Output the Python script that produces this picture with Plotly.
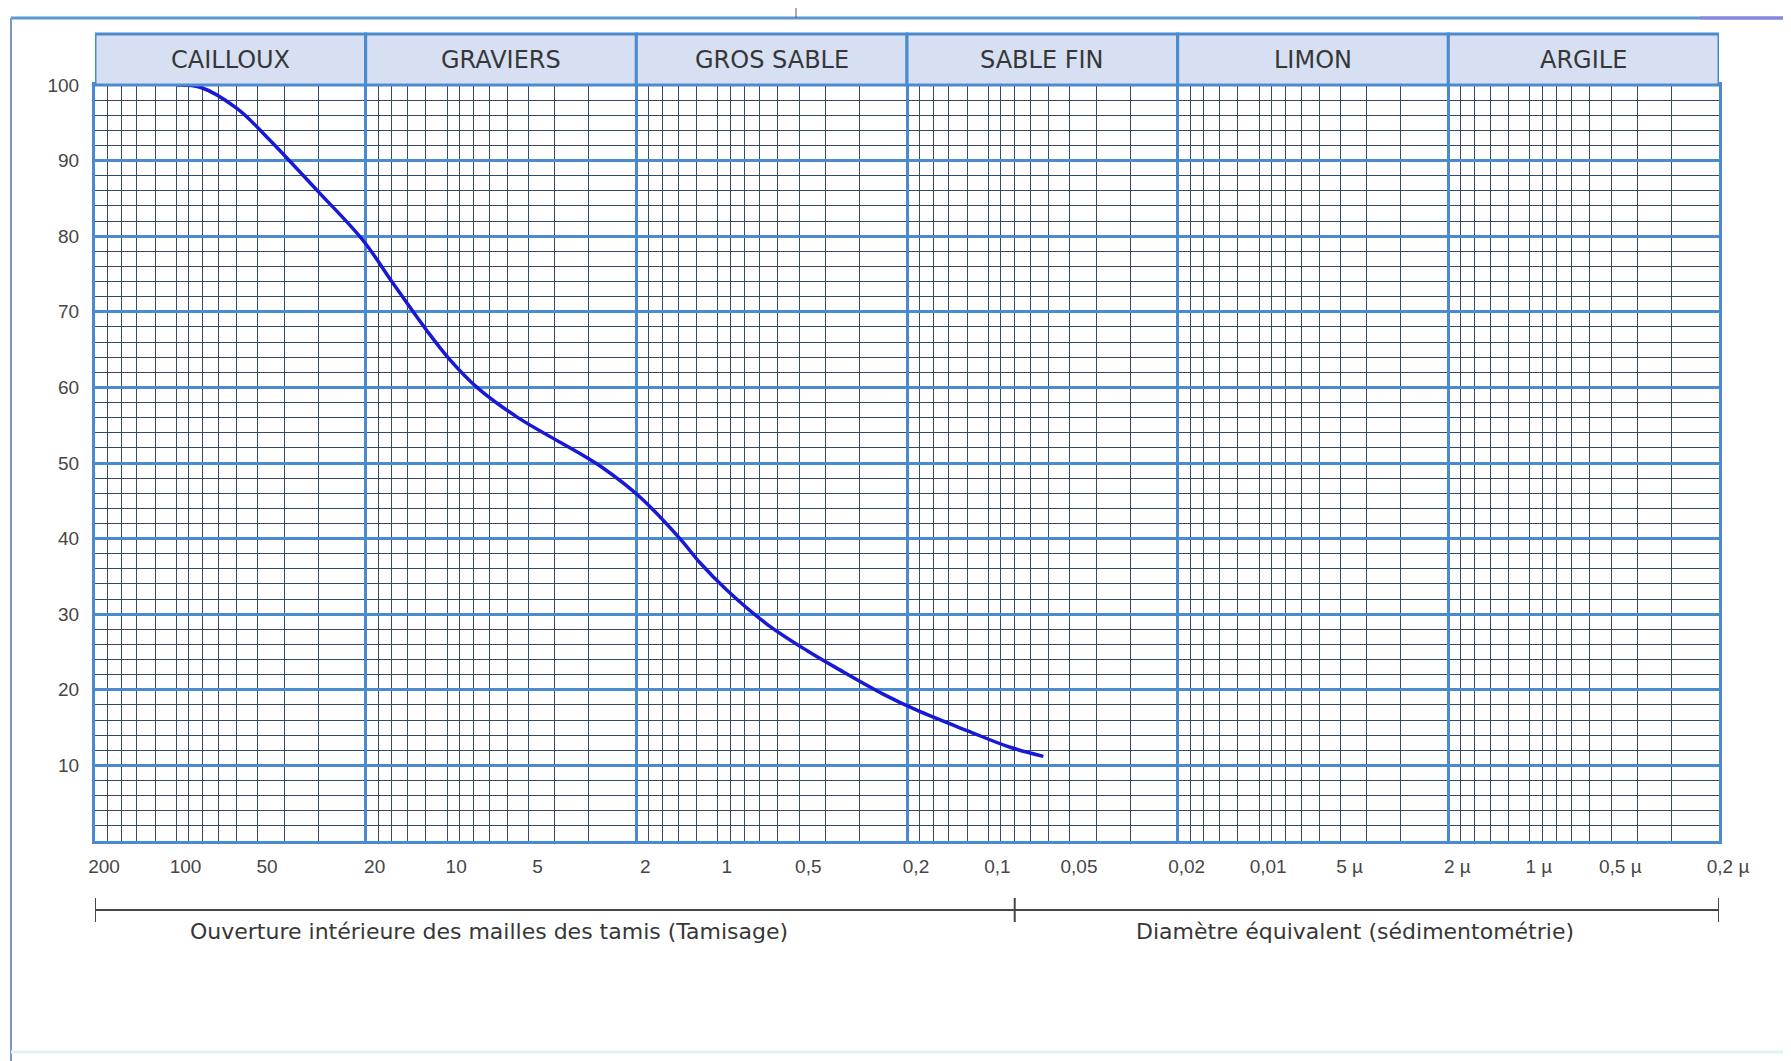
import math
import plotly.graph_objects as go

# ---------------- data ----------------
grain_size_mm = [100, 81.7, 59.8, 46.3, 30.3, 20.4, 15.8, 11.88, 9.74, 7.76, 5.53,
                 3.14, 2.72, 1.94, 1.38, 1.164, 0.927, 0.659, 0.469, 0.353, 0.244,
                 0.184, 0.120, 0.0832, 0.0627]
passing_pct = [100, 99.7, 96.9, 93.1, 86.1, 79.4, 73.7, 67.5, 63.6, 60.0, 56.1,
               51.0, 49.6, 45.5, 40.0, 36.8, 33.2, 28.7, 25.2, 22.6, 19.4,
               17.3, 14.6, 12.4, 11.2]

class_names = ["CAILLOUX", "GRAVIERS", "GROS SABLE", "SABLE FIN", "LIMON", "ARGILE"]
class_bounds_mm = [200, 20, 2, 0.2, 0.02, 0.002, 0.0002]

x_tick_vals = [200, 100, 50, 20, 10, 5, 2, 1, 0.5, 0.2, 0.1, 0.05, 0.02, 0.01,
               0.005, 0.002, 0.001, 0.0005, 0.0002]
x_tick_text = ["200", "100", "50", "20", "10", "5", "2", "1", "0,5", "0,2", "0,1",
               "0,05", "0,02", "0,01", "5 µ", "2 µ", "1 µ", "0,5 µ", "0,2 µ"]
y_tick_vals = [10, 20, 30, 40, 50, 60, 70, 80, 90, 100]
y_minor_vals = [2, 4, 6, 8, 12, 14, 16, 18, 22, 24, 26, 28, 32, 34, 36, 38, 42, 44, 46, 48,
                52, 54, 56, 58, 62, 64, 66, 68, 72, 74, 76, 78, 82, 84, 86, 88, 92, 94, 96, 98]
minor_mantissas = [1.8, 1.6, 1.4, 1.2, 1.0, 0.9, 0.8, 0.7, 0.6, 0.5, 0.4, 0.3]
decade_scales = [100, 10, 1, 0.1, 0.01, 0.001]
x_minor_vals = [m * s for s in decade_scales for m in minor_mantissas]

method_split_mm = 0.08
method_labels = ["Ouverture intérieure des mailles des tamis (Tamisage)",
                 "Diamètre équivalent (sédimentométrie)"]

# ---------------- style ----------------
MAJ = "rgb(74,138,206)"
MIN = "rgb(52,72,104)"
HEAD_FILL = "rgb(214,224,242)"
TXT = "rgb(55,55,55)"
BODY = 8  # browser body margin
W, H = 1791 - BODY, 1061 - BODY
ML, MT = 95 - BODY, 85 - BODY
PW, PH = 1624, 756
MR, MB = W - ML - PW, H - MT - PH


def py(px):  # page pixel y -> paper y
    return 1 - (px - BODY - MT) / PH


def pxp(px):  # page pixel x -> paper x
    return (px - BODY - ML) / PW


xr = [math.log10(class_bounds_mm[0]), math.log10(class_bounds_mm[-1])]

fig = go.Figure()
fig.add_trace(go.Scatter(
    x=grain_size_mm, y=passing_pct, mode="lines",
    line=dict(color="rgb(24,24,215)", width=3.5, shape="spline", smoothing=1.0),
    showlegend=False, hoverinfo="x+y"))
fig.add_trace(go.Scatter(
    x=grain_size_mm, y=passing_pct, mode="lines", xaxis="x2", line=dict(width=0),
    showlegend=False, hoverinfo="skip"))

shapes = []
annotations = []
# header cells
head_top = py(34)
for i, name in enumerate(class_names):
    a, b = class_bounds_mm[i], class_bounds_mm[i + 1]
    shapes.append(dict(type="rect", xref="x", yref="paper", x0=a, x1=b, y0=1, y1=head_top,
                       fillcolor=HEAD_FILL, line=dict(color=MAJ, width=3), layer="above"))
    annotations.append(dict(xref="x", yref="paper", x=math.log10(math.sqrt(a * b)), y=(1 + head_top) / 2,
                            text=name, showarrow=False, font=dict(family="DejaVu Sans", size=24, color=TXT),
                            xanchor="center", yanchor="middle"))

# method bracket
yb = py(910)
shapes.append(dict(type="line", xref="x", yref="paper", x0=class_bounds_mm[0], x1=class_bounds_mm[-1],
                   y0=yb, y1=yb, line=dict(color="rgb(70,70,70)", width=2)))
for xv in [class_bounds_mm[0], method_split_mm, class_bounds_mm[-1]]:
    shapes.append(dict(type="line", xref="x", yref="paper", x0=xv, x1=xv, y0=py(898), y1=py(922),
                       line=dict(color="rgb(70,70,70)", width=2)))
for txt, xc in zip(method_labels, [489, 1355]):
    annotations.append(dict(xref="paper", yref="paper", x=pxp(xc), y=py(931), text=txt, showarrow=False,
                            font=dict(family="DejaVu Sans", size=22, color=TXT), xanchor="center", yanchor="middle"))

# window frame decorations
shapes.append(dict(type="line", xref="paper", yref="paper", x0=pxp(11), x1=pxp(1791), y0=py(18), y1=py(18),
                   line=dict(color="rgb(92,150,212)", width=3)))
shapes.append(dict(type="line", xref="paper", yref="paper", x0=pxp(1700), x1=pxp(1791), y0=py(18), y1=py(18),
                   line=dict(color="rgb(140,130,225)", width=3)))
shapes.append(dict(type="line", xref="paper", yref="paper", x0=pxp(11), x1=pxp(11), y0=py(18), y1=py(1061),
                   line=dict(color="rgb(120,155,195)", width=2)))
shapes.append(dict(type="line", xref="paper", yref="paper", x0=pxp(796), x1=pxp(796), y0=py(8), y1=py(18),
                   line=dict(color="rgb(90,90,90)", width=1)))
shapes.append(dict(type="line", xref="paper", yref="paper", x0=pxp(11), x1=pxp(1791), y0=py(1052), y1=py(1052),
                   line=dict(color="rgb(225,242,248)", width=3)))

fig.update_layout(
    width=W, height=H, margin=dict(l=ML, r=MR, t=MT, b=MB),
    paper_bgcolor="white", plot_bgcolor="white",
    xaxis=dict(type="log", range=xr, tickvals=class_bounds_mm, showticklabels=False, ticks="",
               showgrid=True, gridcolor=MAJ, gridwidth=3,
               minor=dict(tickvals=x_minor_vals, showgrid=True, gridcolor=MIN, gridwidth=1.3, ticks=""),
               showline=True, linecolor=MAJ, linewidth=3, mirror=True, zeroline=False),
    xaxis2=dict(type="log", range=xr, overlaying="x", side="bottom", anchor="y", tickvals=x_tick_vals,
                ticktext=x_tick_text, showgrid=False, ticks="", ticklabelshift=-9, ticklabelstandoff=12,
                tickfont=dict(family="Liberation Sans", size=19, color="rgb(70,70,70)"), zeroline=False,
                showline=False),
    yaxis=dict(range=[0, 100], tickvals=y_tick_vals, showgrid=True, gridcolor=MAJ, gridwidth=3, ticks="",
               minor=dict(tickvals=y_minor_vals, showgrid=True, gridcolor=MIN, gridwidth=1.3, ticks=""),
               showline=True, linecolor=MAJ, linewidth=3, mirror=True, zeroline=False, ticklabelstandoff=9,
               tickfont=dict(family="Liberation Sans", size=19, color="rgb(70,70,70)")),
    shapes=shapes, annotations=annotations,
)

fig.write_html("out.html")
